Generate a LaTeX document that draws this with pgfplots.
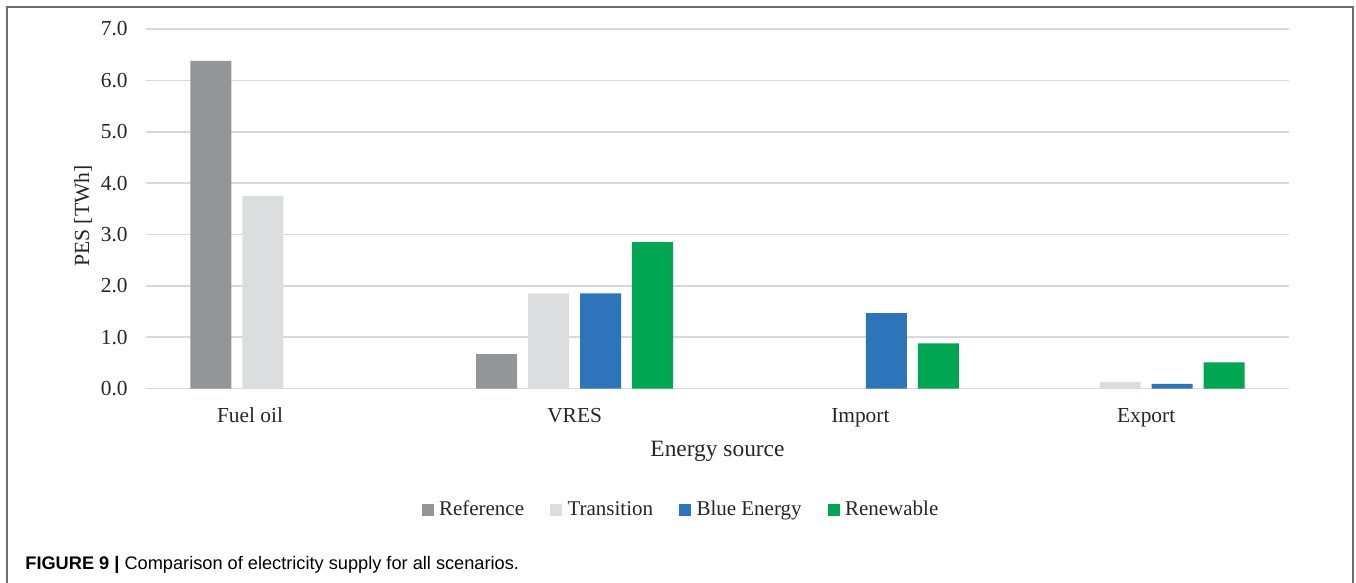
\documentclass[border=0pt]{standalone}
\usepackage{pgfplots}
\pgfplotsset{compat=1.18}
\usepackage{fontspec}
\setmainfont{Liberation Serif}
\newfontfamily\capfont{Liberation Sans}
\definecolor{cRef}{HTML}{939598}
\definecolor{cTra}{HTML}{DCDDDE}
\definecolor{cBlue}{HTML}{2E74BA}
\definecolor{cRen}{HTML}{00A651}
\definecolor{gridc}{HTML}{D9D9D9}
\definecolor{framec}{HTML}{6D6E71}
\begin{document}
\begin{tikzpicture}
\useasboundingbox (0,0) rectangle (678pt,-291.5pt);
% frame round the figure (bottom edge lies outside the image)
\draw[framec, line width=0.9pt] (3.5pt,-295pt) -- (3.5pt,-3.5pt) -- (676.5pt,-3.5pt) -- (676.5pt,-295pt);
\begin{axis}[
  at={(73pt,-194.25pt)}, anchor=south west,
  scale only axis, width=571.5pt, height=179.75pt,
  ybar=5.5pt, bar width=20.5pt,
  xmin=-0.5, xmax=3.5, ymin=0, ymax=7,
  xtick={-0.136,1,2,3},
  xticklabels={Fuel oil,VRES,Import,Export},
  ytick={0,1,2,3,4,5,6,7},
  major tick length=0pt,
  axis line style={draw=none},
  ymajorgrids, grid style={gridc, line width=0.8pt},
  /pgf/number format/.cd, fixed, fixed zerofill, precision=1, assume math mode=true,
  /pgfplots/.cd,
  tick label style={font=\fontsize{10.7}{12}\selectfont, text=black!85},
  yticklabel style={anchor=east, inner sep=0pt, xshift=-9pt},
  xticklabel style={anchor=base, inner sep=0pt, yshift=-16.8pt},
  xlabel={Energy source},
  ylabel={PES [TWh]},
  every axis x label/.style={at={(axis description cs:0.5,-0.188)}, anchor=base, font=\fontsize{11.7}{13}\selectfont, text=black!85},
  every axis y label/.style={at={(axis description cs:-0.0551,0.48)}, anchor=center, rotate=90, font=\fontsize{10.8}{12}\selectfont, text=black!85},
  legend columns=4,
  legend style={at={(axis description cs:0.4685,-0.338)}, anchor=center, draw=none,
    inner sep=0pt, font=\fontsize{10.5}{12}\selectfont, text=black!85,
    /tikz/every even column/.append style={column sep=11.5pt},
    nodes={inner sep=1.5pt}},
  legend image code/.code={\fill[#1] (0pt,-3pt) rectangle (6pt,3pt);},
  /tikz/every odd column/.append style={column sep=1.2pt},
]
\addplot[draw=none, fill=cRef] coordinates {(0,6.38) (1,0.67)};
\addlegendentry{Reference}
\addplot[draw=none, fill=cTra] coordinates {(0,3.75) (1,1.85) (3,0.13)};
\addlegendentry{Transition}
\addplot[draw=none, fill=cBlue] coordinates {(1,1.85) (2,1.47) (3,0.09)};
\addlegendentry{Blue Energy}
\addplot[draw=none, fill=cRen] coordinates {(1,2.85) (2,0.88) (3,0.51)};
\addlegendentry{Renewable}
\end{axis}
\node[anchor=base west, inner sep=0pt, font=\capfont\fontsize{9.1}{11}\selectfont] at (12.5pt,-284.5pt)
  {\textbf{FIGURE 9 |} Comparison of electricity supply for all scenarios.};
\end{tikzpicture}
\end{document}
